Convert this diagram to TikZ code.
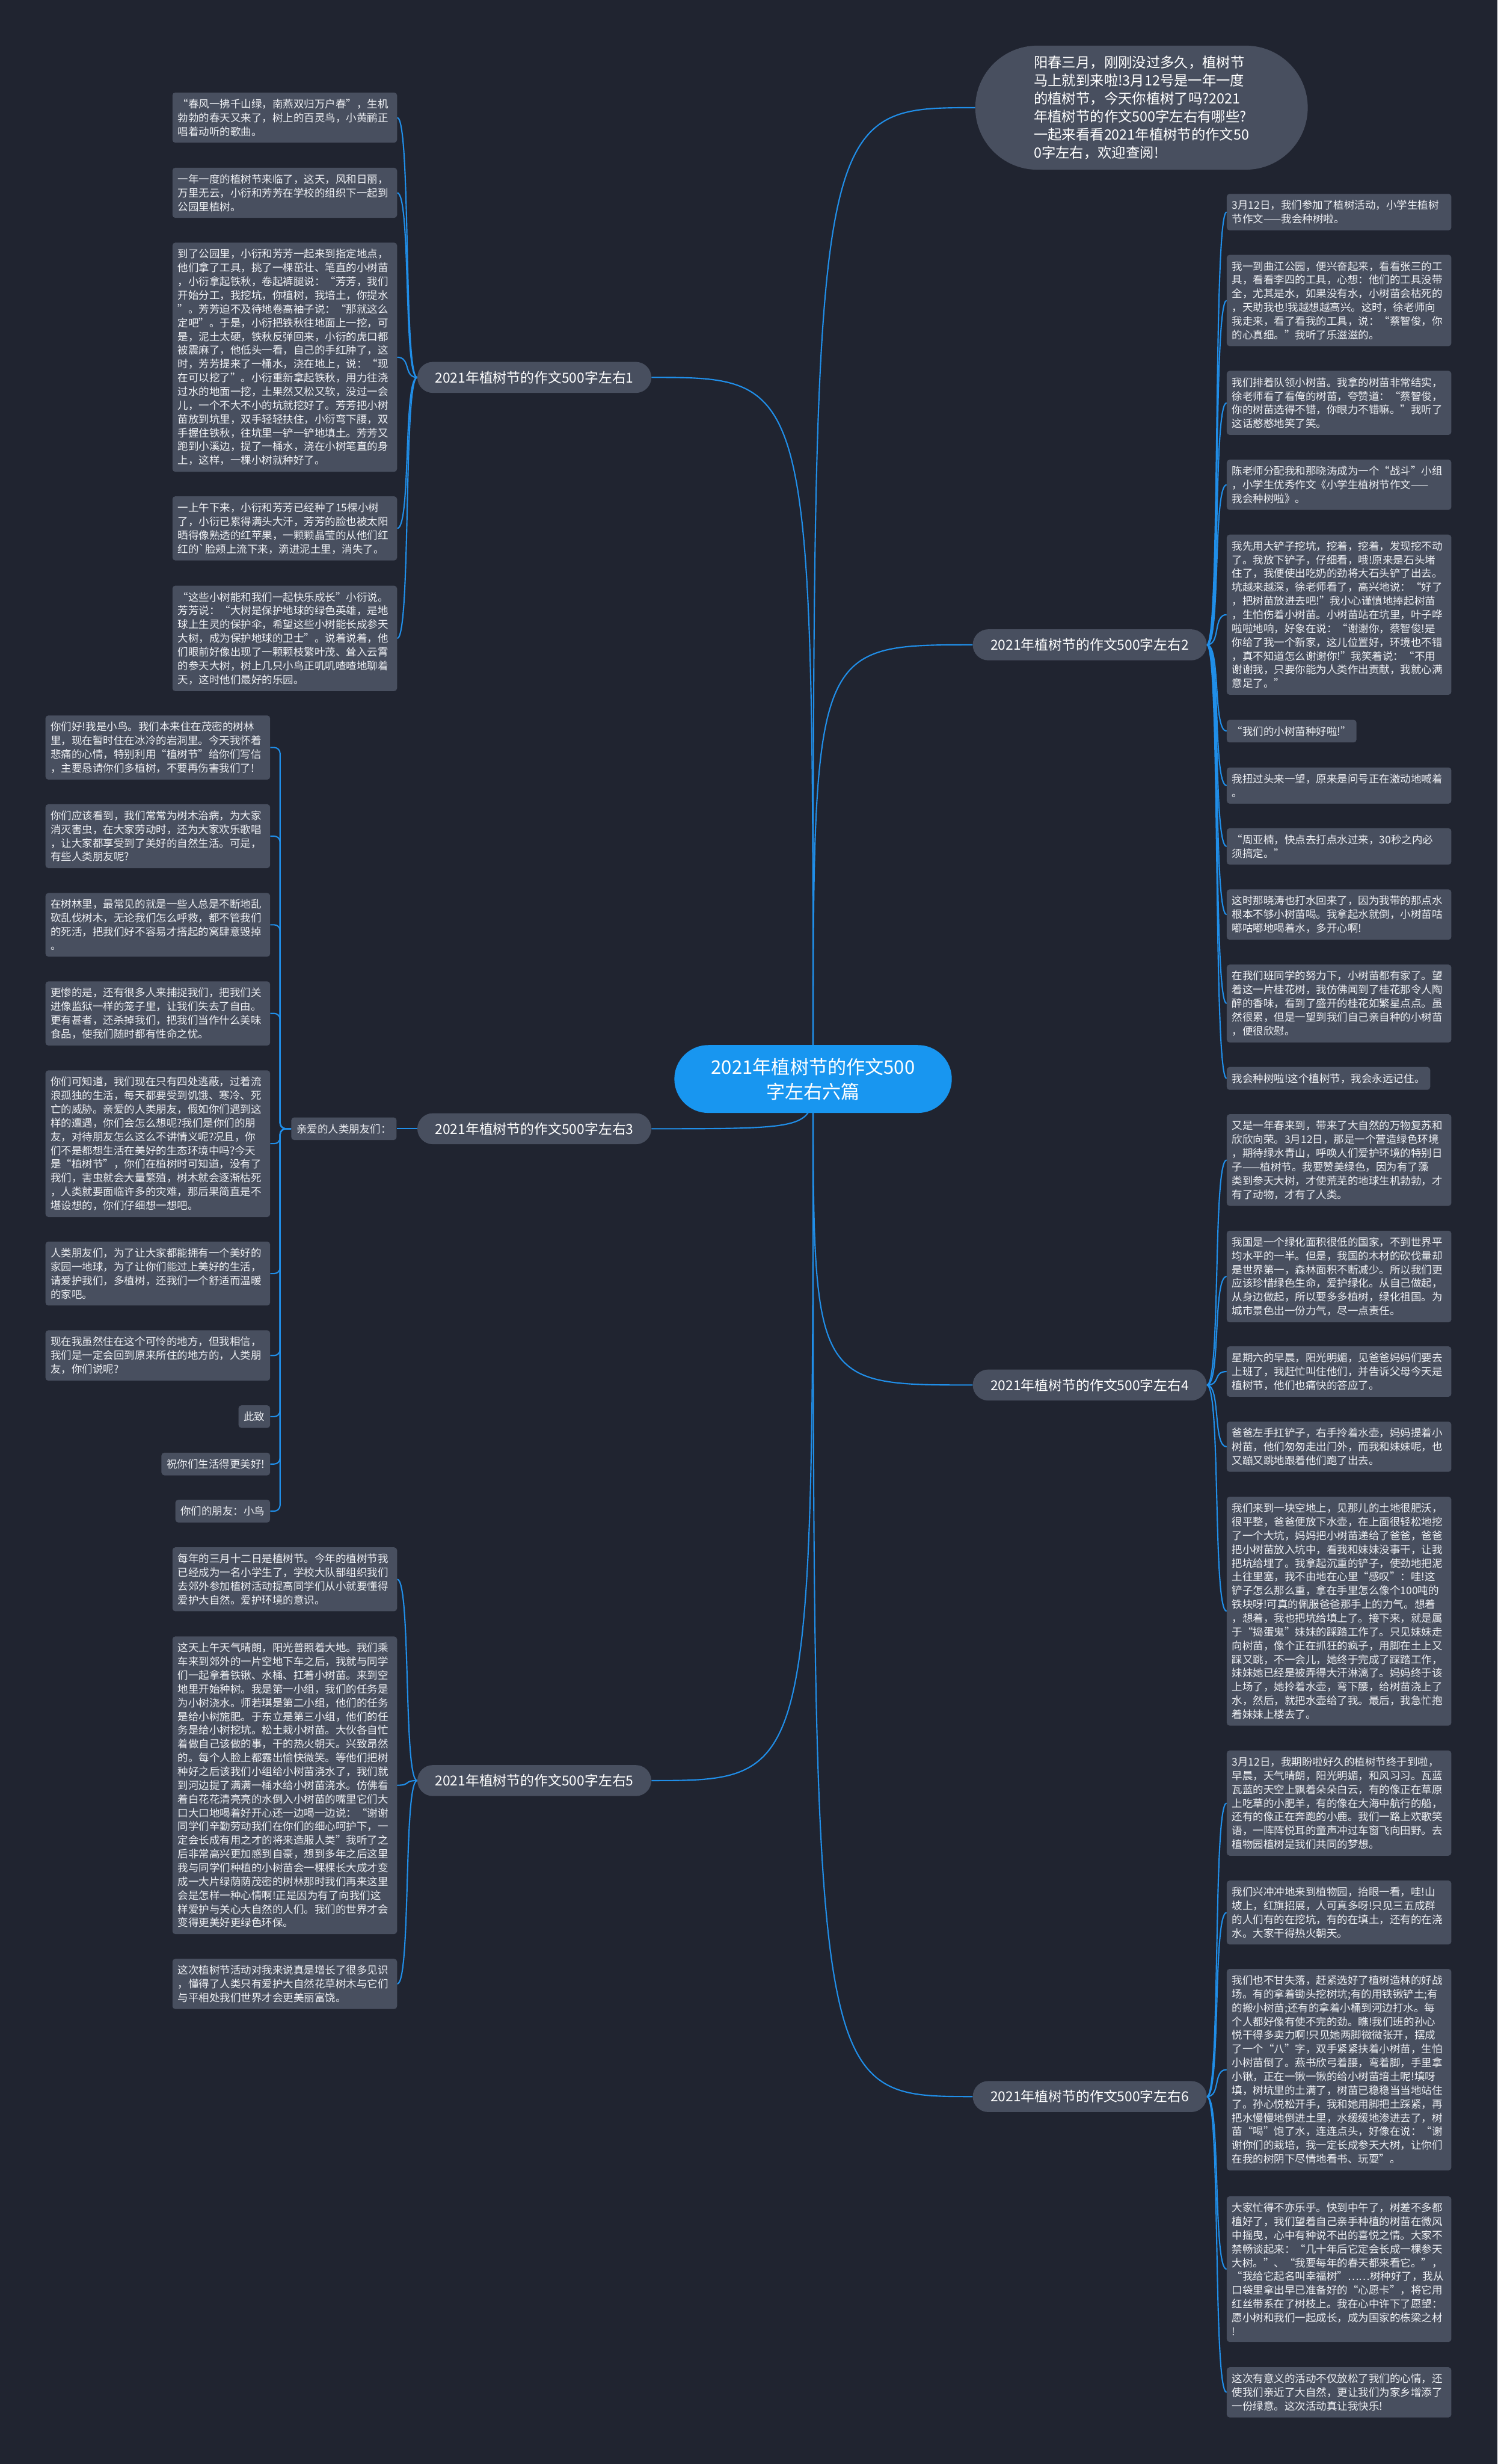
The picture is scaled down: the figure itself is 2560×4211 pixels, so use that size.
\documentclass[tikz,border=0pt]{standalone}
\usepackage{fontspec}
\setmainfont{Noto Sans CJK SC}
\usetikzlibrary{shapes.misc}
\definecolor{bgnavy}{RGB}{32,36,48}
\definecolor{cardgray}{RGB}{72,79,95}
\definecolor{rootblue}{RGB}{24,150,240}
\definecolor{linkblue}{RGB}{32,142,232}
\definecolor{cardtext}{RGB}{238,240,244}
\newcommand{\leaffont}{\fontsize{18pt}{23.5pt}\selectfont}
\newcommand{\branchfont}{\fontsize{23.5pt}{27pt}\selectfont}
\newcommand{\introfont}{\fontsize{24pt}{31pt}\selectfont}
\newcommand{\rootfont}{\fontsize{32pt}{42pt}\selectfont}
\pgfdeclarelayer{bg}
\pgfdeclarelayer{links}
\pgfsetlayers{bg,links,main}

\begin{document}
\begin{tikzpicture}[x=1pt,y=-1pt,
    card/.style={fill=cardgray,rounded corners=5pt,text=cardtext,font=\leaffont,
                 inner xsep=9pt,inner ysep=11pt,align=left},
    para/.style={card,text width=366pt},
    topic/.style={rounded rectangle,fill=cardgray,text=white,font=\branchfont,
                  minimum width=400pt,minimum height=53pt,inner sep=0pt},
    root/.style={rounded rectangle,fill=rootblue,text=white,font=\rootfont,
                 minimum width=481pt,minimum height=116pt,align=center},
    intro/.style={rounded rectangle,fill=cardgray,text=white,font=\introfont,
                  minimum width=575pt,minimum height=212pt,align=left},
    link/.style={draw=linkblue,line width=2.2pt}]
\useasboundingbox (0,0) rectangle (2560,4211);
\begin{pgfonlayer}{bg}
\fill[bgnavy] (0,0) rectangle (2560,4211);
\end{pgfonlayer}

% centre, intro and the six essays
\node[root] (root) at (1390,1844) {2021年植树节的作文500\\字左右六篇};
\node[intro] (intro) at (1951.5,184) {阳春三月，刚刚没过多久，植树节\\
马上就到来啦!3月12号是一年一度\\
的植树节，今天你植树了吗?2021\\
年植树节的作文500字左右有哪些?\\
一起来看看2021年植树节的作文50\\
0字左右，欢迎查阅!};
\node[topic] (b1) at (913.5,645) {2021年植树节的作文500字左右1};
\node[topic] (b2) at (1863,1102) {2021年植树节的作文500字左右2};
\node[topic] (b3) at (913.5,1929) {2021年植树节的作文500字左右3};
\node[topic] (b4) at (1863,2367) {2021年植树节的作文500字左右4};
\node[topic] (b5) at (913.5,3043) {2021年植树节的作文500字左右5};
\node[topic] (b6) at (1863,3583) {2021年植树节的作文500字左右6};

% essay 1
\node[para,anchor=east] (l1a) at (679,201) {“春风一拂千山绿，南燕双归万户春”，生机\\
勃勃的春天又来了，树上的百灵鸟，小黄鹂正\\
唱着动听的歌曲。};
\node[para,anchor=east] (l1b) at (679,329.5) {一年一度的植树节来临了，这天，风和日丽，\\
万里无云，小衍和芳芳在学校的组织下一起到\\
公园里植树。};
\node[para,anchor=east] (l1c) at (679,610.5) {到了公园里，小衍和芳芳一起来到指定地点，\\
他们拿了工具，挑了一棵茁壮、笔直的小树苗\\
，小衍拿起铁秋，卷起裤腿说：“芳芳，我们\\
开始分工，我挖坑，你植树，我培土，你提水\\
”。芳芳迫不及待地卷高袖子说：“那就这么\\
定吧”。于是，小衍把铁秋往地面上一挖，可\\
是，泥土太硬，铁秋反弹回来，小衍的虎口都\\
被震麻了，他低头一看，自己的手红肿了，这\\
时，芳芳提来了一桶水，浇在地上，说：“现\\
在可以挖了”。小衍重新拿起铁秋，用力往浇\\
过水的地面一挖，土果然又松又软，没过一会\\
儿，一个不大不小的坑就挖好了。芳芳把小树\\
苗放到坑里，双手轻轻扶住，小衍弯下腰，双\\
手握住铁秋，往坑里一铲一铲地填土。芳芳又\\
跑到小溪边，提了一桶水，浇在小树笔直的身\\
上，这样，一棵小树就种好了。};
\node[para,anchor=east] (l1d) at (679,903) {一上午下来，小衍和芳芳已经种了15棵小树\\
了，小衍已累得满头大汗，芳芳的脸也被太阳\\
晒得像熟透的红苹果，一颗颗晶莹的从他们红\\
红的\textasciigrave 脸颊上流下来，滴进泥土里，消失了。};
\node[para,anchor=east] (l1e) at (679,1091) {“这些小树能和我们一起快乐成长”小衍说。\\
芳芳说：“大树是保护地球的绿色英雄，是地\\
球上生灵的保护伞，希望这些小树能长成参天\\
大树，成为保护地球的卫士”。说着说着，他\\
们眼前好像出现了一颗颗枝繁叶茂、耸入云霄\\
的参天大树，树上几只小鸟正叽叽喳喳地聊着\\
天，这时他们最好的乐园。};

% essay 3
\node[card] (l3) at (588,1929) {亲爱的人类朋友们：};
\node[para,anchor=east] (l3a) at (462,1277.5) {你们好!我是小鸟。我们本来住在茂密的树林\\
里，现在暂时住在冰冷的岩洞里。今天我怀着\\
悲痛的心情，特别利用“植树节”给你们写信\\
，主要恳请你们多植树，不要再伤害我们了!};
\node[para,anchor=east] (l3b) at (462,1429) {你们应该看到，我们常常为树木治病，为大家\\
消灭害虫，在大家劳动时，还为大家欢乐歌唱\\
，让大家都享受到了美好的自然生活。可是，\\
有些人类朋友呢?};
\node[para,anchor=east] (l3c) at (462,1580.5) {在树林里，最常见的就是一些人总是不断地乱\\
砍乱伐树木，无论我们怎么呼救，都不管我们\\
的死活，把我们好不容易才搭起的窝肆意毁掉\\
。};
\node[para,anchor=east] (l3d) at (462,1732) {更惨的是，还有很多人来捕捉我们，把我们关\\
进像监狱一样的笼子里，让我们失去了自由。\\
更有甚者，还杀掉我们，把我们当作什么美味\\
食品，使我们随时都有性命之忧。};
\node[para,anchor=east] (l3e) at (462,1954.5) {你们可知道，我们现在只有四处逃蔽，过着流\\
浪孤独的生活，每天都要受到饥饿、寒冷、死\\
亡的威胁。亲爱的人类朋友，假如你们遇到这\\
样的遭遇，你们会怎么想呢?我们是你们的朋\\
友，对待朋友怎么这么不讲情义呢?况且，你\\
们不是都想生活在美好的生态环境中吗?今天\\
是“植树节”，你们在植树时可知道，没有了\\
我们，害虫就会大量繁殖，树木就会逐渐枯死\\
，人类就要面临许多的灾难，那后果简直是不\\
堪设想的，你们仔细想一想吧。};
\node[para,anchor=east] (l3f) at (462,2176.5) {人类朋友们，为了让大家都能拥有一个美好的\\
家园一地球，为了让你们能过上美好的生活，\\
请爱护我们，多植树，还我们一个舒适而温暖\\
的家吧。};
\node[para,anchor=east] (l3g) at (462,2316.5) {现在我虽然住在这个可怜的地方，但我相信，\\
我们是一定会回到原来所住的地方的，人类朋\\
友，你们说呢?};
\node[card,anchor=east] (l3h) at (462,2421) {此致};
\node[card,anchor=east] (l3i) at (462,2502) {祝你们生活得更美好!};
\node[card,anchor=east] (l3j) at (462,2582.5) {你们的朋友：小鸟};

% essay 5
\node[para,anchor=east] (l5a) at (679,2699) {每年的三月十二日是植树节。今年的植树节我\\
已经成为一名小学生了，学校大队部组织我们\\
去郊外参加植树活动提高同学们从小就要懂得\\
爱护大自然。爱护环境的意识。};
\node[para,anchor=east] (l5b) at (679,3051) {这天上午天气晴朗，阳光普照着大地。我们乘\\
车来到郊外的一片空地下车之后，我就与同学\\
们一起拿着铁锹、水桶、扛着小树苗。来到空\\
地里开始种树。我是第一小组，我们的任务是\\
为小树浇水。师若琪是第二小组，他们的任务\\
是给小树施肥。于东立是第三小组，他们的任\\
务是给小树挖坑。松土栽小树苗。大伙各自忙\\
着做自己该做的事，干的热火朝天。兴致昂然\\
的。每个人脸上都露出愉快微笑。等他们把树\\
种好之后该我们小组给小树苗浇水了，我们就\\
到河边提了满满一桶水给小树苗浇水。仿佛看\\
着白花花清亮亮的水倒入小树苗的嘴里它们大\\
口大口地喝着好开心还一边喝一边说：“谢谢\\
同学们辛勤劳动我们在你们的细心呵护下，一\\
定会长成有用之才的将来造服人类”我听了之\\
后非常高兴更加感到自豪，想到多年之后这里\\
我与同学们种植的小树苗会一棵棵长大成才变\\
成一大片绿荫荫茂密的树林那时我们再来这里\\
会是怎样一种心情啊!正是因为有了向我们这\\
样爱护与关心大自然的人们。我们的世界才会\\
变得更美好更绿色环保。};
\node[para,anchor=east] (l5c) at (679,3390.5) {这次植树节活动对我来说真是增长了很多见识\\
，懂得了人类只有爱护大自然花草树木与它们\\
与平相处我们世界才会更美丽富饶。};

% essay 2
\node[para,anchor=west] (r2a) at (2097,362.5) {3月12日，我们参加了植树活动，小学生植树\\
节作文——我会种树啦。};
\node[para,anchor=west] (r2b) at (2097,513.5) {我一到曲江公园，便兴奋起来，看看张三的工\\
具，看看李四的工具，心想：他们的工具没带\\
全，尤其是水，如果没有水，小树苗会枯死的\\
，天助我也!我越想越高兴。这时，徐老师向\\
我走来，看了看我的工具，说：“蔡智俊，你\\
的心真细。”我听了乐滋滋的。};
\node[para,anchor=west] (r2c) at (2097,688.5) {我们排着队领小树苗。我拿的树苗非常结实，\\
徐老师看了看俺的树苗，夸赞道：“蔡智俊，\\
你的树苗选得不错，你眼力不错嘛。”我听了\\
这话憨憨地笑了笑。};
\node[para,anchor=west] (r2d) at (2097,828.5) {陈老师分配我和那晓涛成为一个“战斗”小组\\
，小学生优秀作文《小学生植树节作文——\\
我会种树啦》。};
\node[para,anchor=west] (r2e) at (2097,1050.5) {我先用大铲子挖坑，挖着，挖着，发现挖不动\\
了。我放下铲子，仔细看，哦!原来是石头堵\\
住了，我便使出吃奶的劲将大石头铲了出去。\\
坑越来越深，徐老师看了，高兴地说：“好了\\
，把树苗放进去吧!”我小心谨慎地捧起树苗\\
，生怕伤着小树苗。小树苗站在坑里，叶子哗\\
啦啦地响，好象在说：“谢谢你，蔡智俊!是\\
你给了我一个新家，这儿位置好，环境也不错\\
，真不知道怎么谢谢你!”我笑着说：“不用\\
谢谢我，只要你能为人类作出贡献，我就心满\\
意足了。”};
\node[card,anchor=west] (r2f) at (2097,1249.5) {“我们的小树苗种好啦!”};
\node[para,anchor=west] (r2g) at (2097,1342.5) {我扭过头来一望，原来是问号正在激动地喊着\\
。};
\node[para,anchor=west] (r2h) at (2097,1446.5) {“周亚楠，快点去打点水过来，30秒之内必\\
须搞定。”};
\node[para,anchor=west] (r2i) at (2097,1563) {这时那晓涛也打水回来了，因为我带的那点水\\
根本不够小树苗喝。我拿起水就倒，小树苗咕\\
嘟咕嘟地喝着水，多开心啊!};
\node[para,anchor=west] (r2j) at (2097,1715) {在我们班同学的努力下，小树苗都有家了。望\\
着这一片桂花树，我仿佛闻到了桂花那令人陶\\
醉的香味，看到了盛开的桂花如繁星点点。虽\\
然很累，但是一望到我们自己亲自种的小树苗\\
，便很欣慰。};
\node[card,anchor=west] (r2k) at (2097,1843) {我会种树啦!这个植树节，我会永远记住。};

% essay 4
\node[para,anchor=west] (r4a) at (2097,1982.5) {又是一年春来到，带来了大自然的万物复苏和\\
欣欣向荣。3月12日，那是一个营造绿色环境\\
，期待绿水青山，呼唤人们爱护环境的特别日\\
子——植树节。我要赞美绿色，因为有了藻\\
类到参天大树，才使荒芜的地球生机勃勃，才\\
有了动物，才有了人类。};
\node[para,anchor=west] (r4b) at (2097,2181.5) {我国是一个绿化面积很低的国家，不到世界平\\
均水平的一半。但是，我国的木材的砍伐量却\\
是世界第一，森林面积不断减少。所以我们更\\
应该珍惜绿色生命，爱护绿化。从自己做起，\\
从身边做起，所以要多多植树，绿化祖国。为\\
城市景色出一份力气，尽一点责任。};
\node[para,anchor=west] (r4c) at (2097,2344) {星期六的早晨，阳光明媚，见爸爸妈妈们要去\\
上班了，我赶忙叫住他们，并告诉父母今天是\\
植树节，他们也痛快的答应了。};
\node[para,anchor=west] (r4d) at (2097,2472.5) {爸爸左手扛铲子，右手拎着水壶，妈妈提着小\\
树苗，他们匆匆走出门外，而我和妹妹呢，也\\
又蹦又跳地跟着他们跑了出去。};
\node[para,anchor=west] (r4e) at (2097,2753.5) {我们来到一块空地上，见那儿的土地很肥沃，\\
很平整，爸爸便放下水壶，在上面很轻松地挖\\
了一个大坑，妈妈把小树苗递给了爸爸，爸爸\\
把小树苗放入坑中，看我和妹妹没事干，让我\\
把坑给埋了。我拿起沉重的铲子，使劲地把泥\\
土往里塞，我不由地在心里“感叹”：哇!这\\
铲子怎么那么重，拿在手里怎么像个100吨的\\
铁块呀!可真的佩服爸爸那手上的力气。想着\\
，想着，我也把坑给填上了。接下来，就是属\\
于“捣蛋鬼”妹妹的踩踏工作了。只见妹妹走\\
向树苗，像个正在抓狂的疯子，用脚在土上又\\
踩又跳，不一会儿，她终于完成了踩踏工作，\\
妹妹她已经是被弄得大汗淋漓了。妈妈终于该\\
上场了，她拎着水壶，弯下腰，给树苗浇上了\\
水，然后，就把水壶给了我。最后，我急忙抱\\
着妹妹上楼去了。};

% essay 6
\node[para,anchor=west] (r6a) at (2097,3081.5) {3月12日，我期盼啦好久的植树节终于到啦，\\
早晨，天气晴朗，阳光明媚，和风习习。瓦蓝\\
瓦蓝的天空上飘着朵朵白云，有的像正在草原\\
上吃草的小肥羊，有的像在大海中航行的船，\\
还有的像正在奔跑的小鹿。我们一路上欢歌笑\\
语，一阵阵悦耳的童声冲过车窗飞向田野。去\\
植物园植树是我们共同的梦想。};
\node[para,anchor=west] (r6b) at (2097,3268.5) {我们兴冲冲地来到植物园，抬眼一看，哇!山\\
坡上，红旗招展，人可真多呀!只见三五成群\\
的人们有的在挖坑，有的在填土，还有的在浇\\
水。大家干得热火朝天。};
\node[para,anchor=west] (r6c) at (2097,3537) {我们也不甘失落，赶紧选好了植树造林的好战\\
场。有的拿着锄头挖树坑;有的用铁锹铲土;有\\
的搬小树苗;还有的拿着小桶到河边打水。每\\
个人都好像有使不完的劲。瞧!我们班的孙心\\
悦干得多卖力啊!只见她两脚微微张开，摆成\\
了一个“八”字，双手紧紧扶着小树苗，生怕\\
小树苗倒了。燕书欣弓着腰，弯着脚，手里拿\\
小锹，正在一锹一锹的给小树苗培土呢!填呀\\
填，树坑里的土满了，树苗已稳稳当当地站住\\
了。孙心悦松开手，我和她用脚把土踩紧，再\\
把水慢慢地倒进土里，水缓缓地渗进去了，树\\
苗“喝”饱了水，连连点头，好像在说：“谢\\
谢你们的栽培，我一定长成参天大树，让你们\\
在我的树阴下尽情地看书、玩耍”。};
\node[para,anchor=west] (r6d) at (2097,3878) {大家忙得不亦乐乎。快到中午了，树差不多都\\
植好了，我们望着自己亲手种植的树苗在微风\\
中摇曳，心中有种说不出的喜悦之情。大家不\\
禁畅谈起来：“几十年后它定会长成一棵参天\\
大树。”、“我要每年的春天都来看它。”，\\
“我给它起名叫幸福树”……树种好了，我从\\
口袋里拿出早已准备好的“心愿卡”，将它用\\
红丝带系在了树枝上。我在心中许下了愿望：\\
愿小树和我们一起成长，成为国家的栋梁之材\\
!};
\node[para,anchor=west] (r6e) at (2097,4088.5) {这次有意义的活动不仅放松了我们的心情，还\\
使我们亲近了大自然，更让我们为家乡增添了\\
一份绿意。这次活动真让我快乐!};

\begin{pgfonlayer}{links}
% centre to topics
\draw[link] (root.center) .. controls (root.center |- intro.west) .. (intro.west);
\draw[link] (root.center) .. controls (root.center |- b1.east) .. (b1.east);
\draw[link] (root.center) .. controls (root.center |- b2.west) .. (b2.west);
\draw[link] (root.center) .. controls (root.center |- b3.east) .. (b3.east);
\draw[link] (root.center) .. controls (root.center |- b4.west) .. (b4.west);
\draw[link] (root.center) .. controls (root.center |- b5.east) .. (b5.east);
\draw[link] (root.center) .. controls (root.center |- b6.west) .. (b6.west);
% essay 1
\draw[link] (b1.west) .. controls +(-24,0) and +(24,0) .. (l1a.east);
\draw[link] (b1.west) .. controls +(-24,0) and +(24,0) .. (l1b.east);
\draw[link] (b1.west) .. controls +(-24,0) and +(24,0) .. (l1c.east);
\draw[link] (b1.west) .. controls +(-24,0) and +(24,0) .. (l1d.east);
\draw[link] (b1.west) .. controls +(-24,0) and +(24,0) .. (l1e.east);
% essay 3
\draw[link] (b3.west) -- (l3.east);
\draw[link,rounded corners=10pt] (l3.west) -- ++(-19,0) |- (l3a.east);
\draw[link,rounded corners=10pt] (l3.west) -- ++(-19,0) |- (l3b.east);
\draw[link,rounded corners=10pt] (l3.west) -- ++(-19,0) |- (l3c.east);
\draw[link,rounded corners=10pt] (l3.west) -- ++(-19,0) |- (l3d.east);
\draw[link,rounded corners=10pt] (l3.west) -- ++(-19,0) |- (l3e.east);
\draw[link,rounded corners=10pt] (l3.west) -- ++(-19,0) |- (l3f.east);
\draw[link,rounded corners=10pt] (l3.west) -- ++(-19,0) |- (l3g.east);
\draw[link,rounded corners=10pt] (l3.west) -- ++(-19,0) |- (l3h.east);
\draw[link,rounded corners=10pt] (l3.west) -- ++(-19,0) |- (l3i.east);
\draw[link,rounded corners=10pt] (l3.west) -- ++(-19,0) |- (l3j.east);
% essay 5
\draw[link] (b5.west) .. controls +(-24,0) and +(24,0) .. (l5a.east);
\draw[link] (b5.west) .. controls +(-24,0) and +(24,0) .. (l5b.east);
\draw[link] (b5.west) .. controls +(-24,0) and +(24,0) .. (l5c.east);
% essay 2
\draw[link] (b2.east) .. controls +(24,0) and +(-24,0) .. (r2a.west);
\draw[link] (b2.east) .. controls +(24,0) and +(-24,0) .. (r2b.west);
\draw[link] (b2.east) .. controls +(24,0) and +(-24,0) .. (r2c.west);
\draw[link] (b2.east) .. controls +(24,0) and +(-24,0) .. (r2d.west);
\draw[link] (b2.east) .. controls +(24,0) and +(-24,0) .. (r2e.west);
\draw[link] (b2.east) .. controls +(24,0) and +(-24,0) .. (r2f.west);
\draw[link] (b2.east) .. controls +(24,0) and +(-24,0) .. (r2g.west);
\draw[link] (b2.east) .. controls +(24,0) and +(-24,0) .. (r2h.west);
\draw[link] (b2.east) .. controls +(24,0) and +(-24,0) .. (r2i.west);
\draw[link] (b2.east) .. controls +(24,0) and +(-24,0) .. (r2j.west);
\draw[link] (b2.east) .. controls +(24,0) and +(-24,0) .. (r2k.west);
% essay 4
\draw[link] (b4.east) .. controls +(24,0) and +(-24,0) .. (r4a.west);
\draw[link] (b4.east) .. controls +(24,0) and +(-24,0) .. (r4b.west);
\draw[link] (b4.east) .. controls +(24,0) and +(-24,0) .. (r4c.west);
\draw[link] (b4.east) .. controls +(24,0) and +(-24,0) .. (r4d.west);
\draw[link] (b4.east) .. controls +(24,0) and +(-24,0) .. (r4e.west);
% essay 6
\draw[link] (b6.east) .. controls +(24,0) and +(-24,0) .. (r6a.west);
\draw[link] (b6.east) .. controls +(24,0) and +(-24,0) .. (r6b.west);
\draw[link] (b6.east) .. controls +(24,0) and +(-24,0) .. (r6c.west);
\draw[link] (b6.east) .. controls +(24,0) and +(-24,0) .. (r6d.west);
\draw[link] (b6.east) .. controls +(24,0) and +(-24,0) .. (r6e.west);
\end{pgfonlayer}
\end{tikzpicture}
\end{document}
